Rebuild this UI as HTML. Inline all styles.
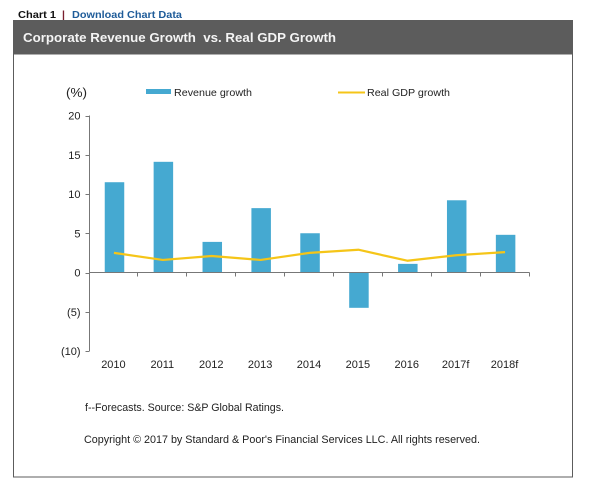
<!DOCTYPE html>
<html lang="en">
<head>
<meta charset="utf-8">
<title>Corporate Revenue Growth vs. Real GDP Growth</title>
<style>
html,body{margin:0;padding:0;background:#fff;width:607px;height:489px;overflow:hidden}
svg{display:block;font-family:"Liberation Sans",Arial,sans-serif}
text{fill:#222}
</style>
</head>
<body>
<svg id="chart" width="607" height="489" viewBox="0 0 607 489" xmlns="http://www.w3.org/2000/svg">
  <text x="18" y="18" font-size="10.5" font-weight="bold" style="fill:#111" textLength="38" lengthAdjust="spacingAndGlyphs">Chart 1</text>
  <text x="62" y="18" font-size="10.5" font-weight="bold" style="fill:#7a1f2e">|</text>
  <text x="72" y="18" font-size="10.5" font-weight="bold" style="fill:#1f5c99;cursor:pointer" textLength="110" lengthAdjust="spacingAndGlyphs">Download Chart Data</text>

  <rect x="13.5" y="54" width="559" height="423" fill="#fff" stroke="#5c5c5c" stroke-width="1"/>
  <rect x="13" y="20" width="560" height="34" fill="#5c5c5c"/>
  <text x="23" y="42" font-size="13" font-weight="bold" style="fill:#f4f4f4;white-space:pre" xml:space="preserve" textLength="313" lengthAdjust="spacingAndGlyphs">Corporate Revenue Growth  vs. Real GDP Growth</text>

  <text x="66" y="97" font-size="13" textLength="21" lengthAdjust="spacingAndGlyphs">(%)</text>

  <rect x="146" y="89" width="25" height="5" fill="#45a9d1"/>
  <text x="174" y="96" font-size="10.5" textLength="78" lengthAdjust="spacingAndGlyphs">Revenue growth</text>
  <line x1="338" x2="365" y1="92.5" y2="92.5" stroke="#f5c518" stroke-width="2"/>
  <text x="367" y="96" font-size="10.5" textLength="83" lengthAdjust="spacingAndGlyphs">Real GDP growth</text>

  <g id="plot"></g>

  <text x="85" y="411" font-size="11" textLength="199" lengthAdjust="spacingAndGlyphs">f--Forecasts. Source: S&amp;P Global Ratings.</text>
  <text x="84" y="443" font-size="11" textLength="396" lengthAdjust="spacingAndGlyphs">Copyright © 2017 by Standard &amp; Poor's Financial Services LLC. All rights reserved.</text>
</svg>
<script>
const categories = ['2010','2011','2012','2013','2014','2015','2016','2017f','2018f'];
const revenueGrowth = [11.5,14.1,3.9,8.2,5.0,-4.5,1.1,9.2,4.8];
const realGdpGrowth = [2.5,1.6,2.1,1.6,2.5,2.9,1.5,2.2,2.6];
const yTickValues = [20,15,10,5,0,-5,-10];
const yTickLabels = ['20','15','10','5','0','(5)','(10)'];

const NS = 'http://www.w3.org/2000/svg';
const plot = document.getElementById('plot');
const axisLeft = 89.5, axisRight = 529.5, zeroY = 272.5, unitPx = 7.85;
const bandWidth = (axisRight - axisLeft) / categories.length;
const yScale = v => zeroY - v * unitPx;
const xScale = i => axisLeft + bandWidth * (i + 0.5);
function make(tag, attrs) {
  const el = document.createElementNS(NS, tag);
  for (const k in attrs) el.setAttribute(k, attrs[k]);
  plot.appendChild(el);
  return el;
}

revenueGrowth.forEach((v, i) => {
  const top = Math.min(yScale(v), zeroY);
  const bar = make('rect', {x: xScale(i) - 9.5 + 0.3, y: top, width: 19.5, height: Math.abs(yScale(v) - zeroY), fill: '#45a9d1'});
  
  
});

const yAxis = make('line', {x1: axisLeft, x2: axisLeft, y1: yScale(20), y2: yScale(-10), stroke: '#777', 'stroke-width': 1});


const xAxis = make('line', {x1: axisLeft, x2: axisRight, y1: zeroY, y2: zeroY, stroke: '#777', 'stroke-width': 1});



yTickValues.forEach((v, i) => {
  const y = Math.round(yScale(v)) + 0.5;
  const tick = make('line', {x1: axisLeft - 4, x2: axisLeft, y1: y, y2: y, stroke: '#777', 'stroke-width': 1});
  
  
  const label = make('text', {x: axisLeft - 9, y: yScale(v) + 4, 'font-size': 11, 'text-anchor': 'end'});
  label.textContent = yTickLabels[i];
  
  
});

categories.forEach((c, i) => {
  const x = Math.round(axisLeft + bandWidth * (i + 1)) - 0.5;
  const tick = make('line', {x1: x, x2: x, y1: zeroY, y2: zeroY + 4, stroke: '#777', 'stroke-width': 1});
  
  
  const label = make('text', {x: xScale(i) - 0.5, y: 368, 'font-size': 11, 'text-anchor': 'middle'});
  label.textContent = c;
  
  
});

const gdpLine = make('polyline', {
  points: realGdpGrowth.map((v, i) => xScale(i) + ',' + yScale(v)).join(' '),
  fill: 'none', stroke: '#f5c518', 'stroke-width': 2.2, 'stroke-linejoin': 'round'
});


</script>
</body>
</html>
